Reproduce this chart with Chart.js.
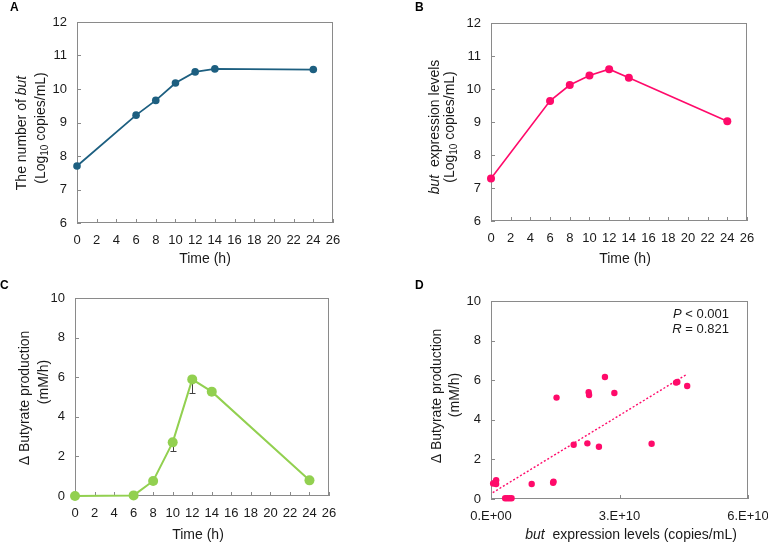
<!DOCTYPE html>
<html><head><meta charset="utf-8">
<script src="https://cdn.jsdelivr.net/npm/chart.js@4"></script>
<style>
html,body{margin:0;padding:0;background:#fff;}
#wrap{position:relative;width:768px;height:543px;overflow:hidden;background:#fff;}
canvas{position:absolute;}
</style></head><body>
<div id="wrap">
<canvas id="cA" width="384" height="272" style="left:0px;top:0px"></canvas>
<canvas id="cB" width="384" height="272" style="left:384px;top:0px"></canvas>
<canvas id="cC" width="384" height="271" style="left:0px;top:272px"></canvas>
<canvas id="cD" width="384" height="271" style="left:384px;top:272px"></canvas>
</div>
<script>
// ---- data ----
const timeH = [0, 6, 8, 10, 12, 14, 24];
const butNumber = [7.70, 9.22, 9.66, 10.18, 10.51, 10.60, 10.58];
const butExpression = [7.29, 9.64, 10.12, 10.41, 10.60, 10.34, 9.02];
const butyrateRate = [0.00, 0.03, 0.76, 2.71, 5.89, 5.27, 0.79];
const butyrateErrLow = [0, 0, 0, 0.44, 0.67, 0, 0];
const scatterExpr = [0.05e10, 0.10e10, 0.12e10, 0.12e10, 0.33e10, 0.38e10, 0.43e10, 0.48e10, 0.95e10, 1.45e10, 1.46e10, 1.53e10, 1.93e10, 2.25e10, 2.28e10, 2.29e10, 2.52e10, 2.66e10, 2.88e10, 3.75e10, 4.32e10, 4.35e10, 4.58e10];
const scatterRate = [0.78, 0.85, 0.95, 0.76, 0.04, 0.04, 0.04, 0.04, 0.76, 0.82, 0.88, 5.12, 2.74, 2.81, 5.39, 5.25, 2.64, 6.16, 5.35, 2.79, 5.88, 5.91, 5.71];
const trendExpr = [0.04e10, 4.58e10];
const trendRate = [0.32, 6.31];
const dTickValues = [0, 3e10, 6e10];
const dTickLabels = ['0.E+00', '3.E+10', '6.E+10'];
const statsText = [['P', ' < 0.001'], ['R', ' = 0.821']];

const FONT = '"Liberation Sans", Arial, Helvetica, sans-serif';
const TXT = '#1a1a1a';
const FRAME = '#8a8a8a';
const BLUE = '#1d5f80';
const PINK = '#ff0a6a';
const GREEN = '#92d050';

function pts(xs, ys) { return xs.map((x, i) => ({x: x, y: ys[i]})); }

function drawRich(ctx, segs, cx, cy, rot, size) {
  ctx.save();
  ctx.translate(cx, cy);
  if (rot) ctx.rotate(-Math.PI / 2);
  let total = 0;
  const parts = segs.map(s => {
    const fs = s.sub ? Math.round(size * 0.68) : size;
    const font = (s.italic ? 'italic ' : '') + (s.bold ? 'bold ' : '') + fs + 'px ' + FONT;
    ctx.font = font;
    const w = ctx.measureText(s.t).width;
    total += w;
    return {font, w, t: s.t, sub: s.sub};
  });
  let x = -total / 2;
  ctx.fillStyle = TXT;
  ctx.textBaseline = 'middle';
  ctx.textAlign = 'left';
  for (const p of parts) {
    ctx.font = p.font;
    ctx.fillText(p.t, x, p.sub ? size * 0.3 : 0);
    x += p.w;
  }
  ctx.restore();
}

// frame + inner ticks + texts
function decoPlugin(cfg) {
  return {
    id: 'deco',
    beforeDatasetsDraw(chart) {
      const ctx = chart.ctx;
      const a = chart.chartArea;
      ctx.save();
      ctx.strokeStyle = FRAME;
      ctx.lineWidth = 1;
      ctx.strokeRect(Math.round(a.left) + 0.5, Math.round(a.top) + 0.5, Math.round(a.right - a.left) - 1, Math.round(a.bottom - a.top) - 1);
      const xs = chart.scales.x, ys = chart.scales.y;
      ctx.beginPath();
      xs.ticks.forEach(t => {
        const px = Math.round(xs.getPixelForValue(t.value)) + 0.5;
        ctx.moveTo(px, a.bottom);
        ctx.lineTo(px, a.bottom - 4);
      });
      ys.ticks.forEach(t => {
        const py = Math.round(ys.getPixelForValue(t.value)) + 0.5;
        ctx.moveTo(a.left, py);
        ctx.lineTo(a.left + 4, py);
      });
      ctx.stroke();
      // error bars (lower)
      if (cfg.err) {
        ctx.strokeStyle = '#404040';
        ctx.lineWidth = 1;
        ctx.beginPath();
        cfg.err.vals.forEach((e, i) => {
          if (!e) return;
          const px = Math.round(xs.getPixelForValue(cfg.err.x[i])) + 0.5;
          const y0 = ys.getPixelForValue(cfg.err.y[i]);
          const y1 = Math.round(ys.getPixelForValue(cfg.err.y[i] - e)) + 0.5;
          ctx.moveTo(px, y0);
          ctx.lineTo(px, y1);
          ctx.moveTo(px - 3, y1);
          ctx.lineTo(px + 3, y1);
        });
        ctx.stroke();
      }
      ctx.restore();
    },
    afterDraw(chart) {
      const ctx = chart.ctx;
      ctx.save();
      ctx.font = 'bold 12px ' + FONT;
      ctx.fillStyle = '#000';
      ctx.textBaseline = 'alphabetic';
      ctx.textAlign = 'left';
      ctx.fillText(cfg.letter[0], cfg.letter[1], cfg.letter[2]);
      ctx.restore();
      cfg.yTitle.forEach(l => drawRich(ctx, l.segs, l.x, l.y, true, 14));
      drawRich(ctx, cfg.xTitle.segs, cfg.xTitle.x, cfg.xTitle.y, false, 14);
      if (cfg.stats) {
        const a = chart.chartArea;
        cfg.stats.forEach((s, i) => {
          ctx.save();
          ctx.fillStyle = TXT;
          ctx.textBaseline = 'middle';
          ctx.textAlign = 'left';
          ctx.font = '13px ' + FONT;
          const w2 = ctx.measureText(s[1]).width;
          ctx.font = 'italic 13px ' + FONT;
          const w1 = ctx.measureText(s[0]).width;
          const right = a.right - 19;
          const y = a.top + 13 + i * 15;
          ctx.fillText(s[0], right - w1 - w2, y);
          ctx.font = '13px ' + FONT;
          ctx.fillText(s[1], right - w2, y);
          ctx.restore();
        });
      }
    }
  };
}

function noPad(s) { s.paddingLeft = 0; s.paddingRight = 0; s.paddingTop = 0; s.paddingBottom = 0; }

function makeScales(o) {
  const tickFont = {family: FONT, size: 13};
  return {
    x: {
      type: 'linear', min: o.xmin, max: o.xmax,
      grid: {display: false, drawTicks: false},
      border: {display: false},
      ticks: Object.assign({font: tickFont, color: TXT, padding: 10, maxRotation: 0, autoSkip: false}, o.xticks),
      afterFit(s) { s.height = 30; noPad(s); },
      afterBuildTicks: o.xTickValues ? (s) => { s.ticks = o.xTickValues.map(v => ({value: v})); } : undefined
    },
    y: {
      type: 'linear', min: o.ymin, max: o.ymax,
      grid: {display: false, drawTicks: false},
      border: {display: false},
      ticks: {font: tickFont, color: TXT, padding: 10, stepSize: o.ystep},
      afterFit(s) { s.width = 40; noPad(s); }
    }
  };
}

function baseOptions(pad, scales) {
  return {
    responsive: false, animation: false, devicePixelRatio: 1,
    layout: {padding: pad},
    plugins: {legend: {display: false}, tooltip: {enabled: false}},
    scales: scales
  };
}

const timeTicks = {stepSize: 2};
const logTitle = [{t: '(Log'}, {t: '10', sub: true}, {t: ' copies/mL)'}];

// ---- A ----
new Chart(document.getElementById('cA'), {
  type: 'line',
  data: {datasets: [{data: pts(timeH, butNumber), borderColor: BLUE, backgroundColor: BLUE, borderWidth: 1.8, pointRadius: 3.8, pointBorderWidth: 0, tension: 0, clip: false}]},
  options: baseOptions({left: 37, right: 51, top: 22, bottom: 19}, makeScales({xmin: 0, xmax: 26, xticks: timeTicks, ymin: 6, ymax: 12, ystep: 1})),
  plugins: [decoPlugin({
    letter: ['A', 10, 11],
    yTitle: [{segs: [{t: 'The number of '}, {t: 'but', italic: true}], x: 22, y: 133}, {segs: logTitle, x: 41, y: 128}],
    xTitle: {segs: [{t: 'Time (h)'}], x: 205, y: 259}
  })]
});

// ---- B ----
new Chart(document.getElementById('cB'), {
  type: 'line',
  data: {datasets: [{data: pts(timeH, butExpression), borderColor: PINK, backgroundColor: PINK, borderWidth: 1.6, pointRadius: 4, pointBorderWidth: 0, tension: 0, clip: false}]},
  options: baseOptions({left: 67, right: 21, top: 23, bottom: 21}, makeScales({xmin: 0, xmax: 26, xticks: timeTicks, ymin: 6, ymax: 12, ystep: 1})),
  plugins: [decoPlugin({
    letter: ['B', 31, 11],
    yTitle: [{segs: [{t: 'but', italic: true}, {t: '  expression levels'}], x: 51, y: 127}, {segs: logTitle, x: 66, y: 127}],
    xTitle: {segs: [{t: 'Time (h)'}], x: 241, y: 259}
  })]
});

// ---- C ----
new Chart(document.getElementById('cC'), {
  type: 'line',
  data: {datasets: [{data: pts(timeH, butyrateRate), borderColor: GREEN, backgroundColor: GREEN, borderWidth: 2, pointRadius: 5, pointBorderWidth: 0, tension: 0, clip: false}]},
  options: baseOptions({left: 35, right: 55, top: 26, bottom: 17}, makeScales({xmin: 0, xmax: 26, xticks: timeTicks, ymin: 0, ymax: 10, ystep: 2})),
  plugins: [decoPlugin({
    letter: ['C', 0, 17],
    yTitle: [{segs: [{t: '\u0394 Butyrate production'}], x: 25, y: 126}, {segs: [{t: '(mM/h)'}], x: 44, y: 110}],
    xTitle: {segs: [{t: 'Time (h)'}], x: 198, y: 263},
    err: {x: timeH, y: butyrateRate, vals: butyrateErrLow}
  })]
});

// ---- D ----
new Chart(document.getElementById('cD'), {
  type: 'scatter',
  data: {datasets: [
    {data: pts(scatterExpr, scatterRate), borderColor: PINK, backgroundColor: PINK, pointRadius: 3.2, pointBorderWidth: 0, showLine: false, clip: false},
    {type: 'line', data: pts(trendExpr, trendRate), borderColor: PINK, borderWidth: 1.4, borderDash: [2, 2], pointRadius: 0, tension: 0}
  ]},
  options: baseOptions({left: 67, right: 20, top: 29, bottom: 14}, makeScales({
    xmin: 0, xmax: 6e10, xTickValues: dTickValues,
    xticks: {callback: (v) => { const i = dTickValues.indexOf(v); return i >= 0 ? dTickLabels[i] : ''; }},
    ymin: 0, ymax: 10, ystep: 2})),
  plugins: [decoPlugin({
    letter: ['D', 31, 17],
    yTitle: [{segs: [{t: '\u0394 Butyrate production'}], x: 53, y: 124}, {segs: [{t: '(mM/h)'}], x: 71, y: 123}],
    xTitle: {segs: [{t: 'but', italic: true}, {t: '  expression levels (copies/mL)'}], x: 247, y: 263},
    stats: statsText
  })]
});
</script>
</body></html>
